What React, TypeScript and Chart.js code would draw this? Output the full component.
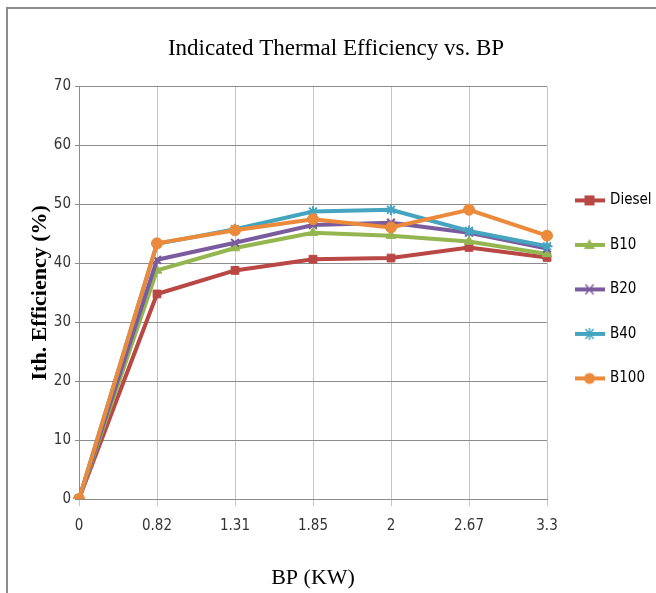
import React, { useEffect, useRef } from 'react';
import { Chart, registerables } from 'chart.js';

Chart.register(...registerables);

const categories = ['0', '0.82', '1.31', '1.85', '2', '2.67', '3.3'];
const seriesNames = ['Diesel', 'B10', 'B20', 'B40', 'B100'];
const dieselValues = [0, 34.8, 38.8, 40.7, 40.9, 42.7, 41.0];
const b10Values = [0, 38.8, 42.6, 45.2, 44.7, 43.7, 41.6];
const b20Values = [0, 40.6, 43.5, 46.5, 46.9, 45.2, 42.5];
const b40Values = [0, 43.3, 45.8, 48.8, 49.1, 45.5, 42.9];
const b100Values = [0, 43.4, 45.6, 47.5, 46.1, 49.1, 44.7];
const yMin = 0;
const yMax = 70;
const yStep = 10;

const seriesValues = [dieselValues, b10Values, b20Values, b40Values, b100Values];
const seriesColors = ['#B94743', '#94B650', '#7A5C9E', '#45A5C0', '#EC8A3C'];
const seriesMarkers = ['rect', 'triangle', 'crossRot', 'star', 'circle'];

const tickFont = {
  family: "'DejaVu Sans Condensed', 'Liberation Sans Narrow', 'Roboto Condensed', Roboto, sans-serif",
  size: 15,
};

function makeIcon(color: string, style: string): HTMLCanvasElement {
  const c = document.createElement('canvas');
  c.width = 30;
  c.height = 16;
  const g = c.getContext('2d')!;
  g.strokeStyle = color;
  g.fillStyle = color;
  g.lineWidth = 4;
  g.beginPath();
  g.moveTo(0, 8);
  g.lineTo(30, 8);
  g.stroke();
  const cx = 15, cy = 8, r = 5.5;
  g.lineWidth = 1.5;
  if (style === 'rect') {
    g.fillRect(cx - 5, cy - 5, 10, 10);
  } else if (style === 'triangle') {
    g.beginPath();
    g.moveTo(cx, cy - 6);
    g.lineTo(cx + 5.5, cy + 4);
    g.lineTo(cx - 5.5, cy + 4);
    g.closePath();
    g.fill();
  } else if (style === 'crossRot') {
    g.beginPath();
    g.moveTo(cx - 4, cy - 5);
    g.lineTo(cx + 4, cy + 5);
    g.moveTo(cx + 4, cy - 5);
    g.lineTo(cx - 4, cy + 5);
    g.stroke();
  } else if (style === 'star') {
    g.beginPath();
    g.moveTo(cx - 4, cy - 5);
    g.lineTo(cx + 4, cy + 5);
    g.moveTo(cx + 4, cy - 5);
    g.lineTo(cx - 4, cy + 5);
    g.moveTo(cx, cy - 6);
    g.lineTo(cx, cy + 6);
    g.stroke();
  } else {
    g.beginPath();
    g.arc(cx, cy, r, 0, Math.PI * 2);
    g.fill();
  }
  return c;
}

export default function App() {
  const ref = useRef<HTMLCanvasElement>(null);

  useEffect(() => {
    const canvas = ref.current;
    if (!canvas) return;
    const icons = seriesNames.map((_, i) => makeIcon(seriesColors[i], seriesMarkers[i]));

    const datasets = seriesNames.map((name, i) => ({
      label: name,
      data: seriesValues[i],
      borderColor: seriesColors[i],
      backgroundColor: seriesColors[i],
      borderWidth: 4,
      pointStyle: seriesMarkers[i] as any,
      pointRadius: 5.5,
      pointBackgroundColor: seriesColors[i],
      pointBorderColor: seriesColors[i],
      pointBorderWidth: i === 2 || i === 3 ? 2 : 1,
      tension: 0,
      order: seriesNames.length - 1 - i,
    }));

    const chart = new Chart(canvas, {
      type: 'line',
      data: { labels: categories, datasets },
      options: {
        animation: false,
        responsive: false,
        devicePixelRatio: 1,
        events: [],
        layout: { padding: { left: 16, right: 0, top: 0, bottom: 0 } },
        plugins: {
          title: {
            display: true,
            text: 'Indicated Thermal Efficiency vs. BP',
            color: '#000',
            font: { family: "'Liberation Serif', serif", size: 23, weight: 'normal' },
            padding: { top: 35, bottom: 24 },
          },
          legend: {
            position: 'right',
            align: 'start',
            maxWidth: 109,
            title: {
              display: true,
              text: ' ',
              font: { size: 12 },
              padding: { top: 149, bottom: 0 },
            },
            labels: {
              usePointStyle: true,
              pointStyleWidth: 26,
              padding: 29.5,
              color: '#000',
              font: tickFont,
              generateLabels: () =>
                seriesNames.map((name, i) => ({
                  text: name,
                  pointStyle: icons[i] as any,
                  fillStyle: seriesColors[i],
                  strokeStyle: seriesColors[i],
                  fontColor: '#000',
                  lineWidth: 0,
                  hidden: false,
                  datasetIndex: i,
                })),
            },
          },
          tooltip: { enabled: false },
        },
        scales: {
          x: {
            type: 'category',
            offset: false,
            grid: { color: '#c4c4c4', tickLength: 7, offset: false },
            border: { color: '#8c8c8c' },
            ticks: { font: tickFont, color: '#333', padding: 11, maxRotation: 0 },
            title: {
              display: true,
              text: 'BP (KW)',
              color: '#000',
              font: { family: "'Liberation Serif', serif", size: 22, weight: 'normal' },
              padding: { top: 0, bottom: 2 },
            },
            afterFit: (s: any) => {
              s.height = 94;
            },
          },
          y: {
            min: yMin,
            max: yMax,
            ticks: { stepSize: yStep, font: tickFont, color: '#333', padding: 4 },
            grid: { color: '#8c8c8c', tickLength: 4 },
            border: { color: '#8c8c8c' },
            title: {
              display: true,
              text: 'Ith. Efficiency (%)',
              color: '#000',
              font: { family: "'Liberation Serif', serif", size: 22, weight: 'bold' },
              padding: { top: 11, bottom: 0 },
            },
            afterFit: (s: any) => {
              s.width = 63;
            },
          },
        },
      },
    });
    return () => chart.destroy();
  }, []);

  return (
    <div style={{ position: 'absolute', left: 0, top: 0, width: 656, height: 593, background: '#fff' }}>
      <div
        style={{
          position: 'absolute',
          left: 6,
          top: 7,
          right: 0,
          bottom: 0,
          borderTop: '2px solid #8c8c8c',
          borderLeft: '2px solid #8c8c8c',
        }}
      />
      <canvas ref={ref} width={656} height={593} style={{ position: 'absolute', left: 0, top: 0 }} />
    </div>
  );
}
